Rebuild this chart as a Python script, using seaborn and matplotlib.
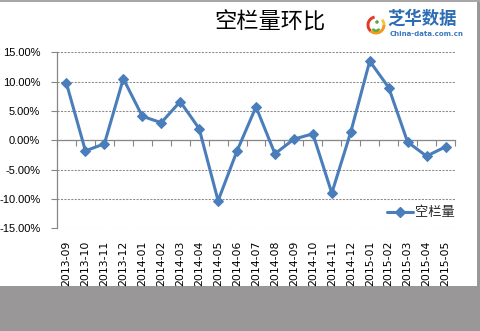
import numpy as np
import pandas as pd
import matplotlib
matplotlib.use("Agg")
import matplotlib.pyplot as plt
import seaborn as sns
from matplotlib.patches import Rectangle, Wedge, Circle
from matplotlib.lines import Line2D

# ---- data ----
months = ["2013-09", "2013-10", "2013-11", "2013-12", "2014-01", "2014-02",
          "2014-03", "2014-04", "2014-05", "2014-06", "2014-07", "2014-08",
          "2014-09", "2014-10", "2014-11", "2014-12", "2015-01", "2015-02",
          "2015-03", "2015-04", "2015-05"]
values = [9.7, -1.8, -0.6, 10.5, 4.1, 3.0, 6.6, 2.0, -10.3, -1.8, 5.7, -2.3,
          0.2, 1.1, -9.0, 1.4, 13.5, 9.0, -0.3, -2.7, -1.1]
series_name = "空栏量"
title_text = "空栏量环比"
logo_text = "芝华数据"
logo_sub = "China-data.com.cn"
y_ticks = [-15, -10, -5, 0, 5, 10, 15]
y_tick_labels = [f"{v:.2f}%" for v in y_ticks]

sns.set_theme(style="white")
plt.rcParams["font.family"] = ["DejaVu Sans", "Noto Sans CJK SC"]

LINE_C = "#4A7EBB"
AX_C = "#868686"
W, H = 481, 331

fig = plt.figure(figsize=(W / 100, H / 100), dpi=100)
fig.patch.set_facecolor("white")

# background frame / grey band
fig.patches.append(Rectangle((0, 0), 1, 45 / H, transform=fig.transFigure,
                             facecolor="#999797", edgecolor="none", zorder=-5))
fig.patches.append(Rectangle((477.5 / W, 0), 3.5 / W, 1, transform=fig.transFigure,
                             facecolor="#999797", edgecolor="none", zorder=-5))
fig.patches.append(Rectangle((0, 1 - 1.5 / H), 1, 1.5 / H, transform=fig.transFigure,
                             facecolor="#a8a8a8", edgecolor="none", zorder=-5))

ax = fig.add_axes([57 / W, 1 - 228.3 / H, 398 / W, 176 / H])
ax.set_facecolor("none")

n = len(months)
df = pd.DataFrame({"pos": np.arange(n), "value": values, "month": months})
sns.lineplot(data=df, x="pos", y="value", ax=ax, color=LINE_C, linewidth=2.2,
             marker="D", markersize=5.2, markeredgecolor=LINE_C, legend=False,
             zorder=5)

ax.set_xlim(-0.5, n - 0.5)
ax.set_ylim(-15, 15)
ax.set_xlabel("")
ax.set_ylabel("")

# y axis
ax.set_yticks(y_ticks)
ax.set_yticklabels(y_tick_labels, fontsize=8, fontfamily="Liberation Sans")
ax.tick_params(axis="y", left=True, length=4, width=0.8, color=AX_C,
               direction="out", pad=8, labelcolor="black")
ax.yaxis.grid(True, linestyle=(0, (2.0, 1.3)), color="#8a8a8a", linewidth=0.75)
ax.xaxis.grid(False)
ax.set_axisbelow(True)

for s in ["top", "right"]:
    ax.spines[s].set_visible(False)
ax.spines["left"].set_color(AX_C)
ax.spines["left"].set_linewidth(0.9)
ax.spines["bottom"].set_position(("data", 0))
ax.spines["bottom"].set_color(AX_C)
ax.spines["bottom"].set_linewidth(0.9)

# boundary tick marks on the zero axis
ax.set_xticks(np.arange(-0.5, n, 1.0))
ax.tick_params(axis="x", bottom=True, length=4, width=0.8, color=AX_C,
               direction="out", labelbottom=False)

# category labels at the bottom of the plot area
sec = ax.secondary_xaxis("bottom")
sec.set_xticks(np.arange(n))
sec.set_xticklabels(months, rotation=90, fontsize=7.8)
sec.tick_params(axis="x", length=0, pad=9, labelcolor="black")
sec.spines["bottom"].set_visible(False)

# legend
handle = Line2D([], [], color=LINE_C, linewidth=2.2, marker="D",
                markersize=5.2, markeredgecolor=LINE_C)
leg = ax.legend(handles=[handle], labels=[series_name], loc="center right",
                bbox_to_anchor=(1.0, 0.087), frameon=False, fontsize=9.5,
                handlelength=2.0, handletextpad=0.15, borderaxespad=0,
                borderpad=0)
for t in leg.get_texts():
    t.set_fontfamily(["Noto Sans CJK SC", "DejaVu Sans"])

# title
fig.text(270 / W, 1 - 22 / H, title_text, ha="center", va="center",
         fontsize=16, color="black", fontweight="medium",
         fontfamily=["Noto Sans CJK SC", "DejaVu Sans"])

# logo
fig.text(387 / W, 1 - 19 / H, logo_text, ha="left", va="center", fontsize=12.5,
         color="#2E6DB4", fontweight="bold",
         fontfamily=["Noto Sans CJK SC", "DejaVu Sans"])
fig.text(390 / W, 1 - 33.5 / H, logo_sub, ha="left", va="center", fontsize=5,
         color="#3A78C0", fontweight="bold")
iax = fig.add_axes([365 / W, 1 - 36 / H, 22 / W, 22 / H])
iax.set_xlim(-1.1, 1.1)
iax.set_ylim(-1.1, 1.1)
iax.axis("off")
iax.add_patch(Wedge((0, 0), 0.95, 100, 230, width=0.3, facecolor="#E23A2A", edgecolor="none"))
iax.add_patch(Wedge((0, 0), 0.95, 230, 360, width=0.3, facecolor="#F29A1E", edgecolor="none"))
iax.add_patch(Wedge((0, 0), 0.95, 0, 40, width=0.3, facecolor="#F6C443", edgecolor="none"))
iax.add_patch(Circle((0.1, 0.3), 0.18, facecolor="#5BAA3C", edgecolor="none"))
iax.add_patch(Wedge((0.0, -0.25), 0.45, 200, 340, width=0.25, facecolor="#5BAA3C", edgecolor="none"))

fig.savefig("out.png", dpi=100, facecolor=fig.get_facecolor())
